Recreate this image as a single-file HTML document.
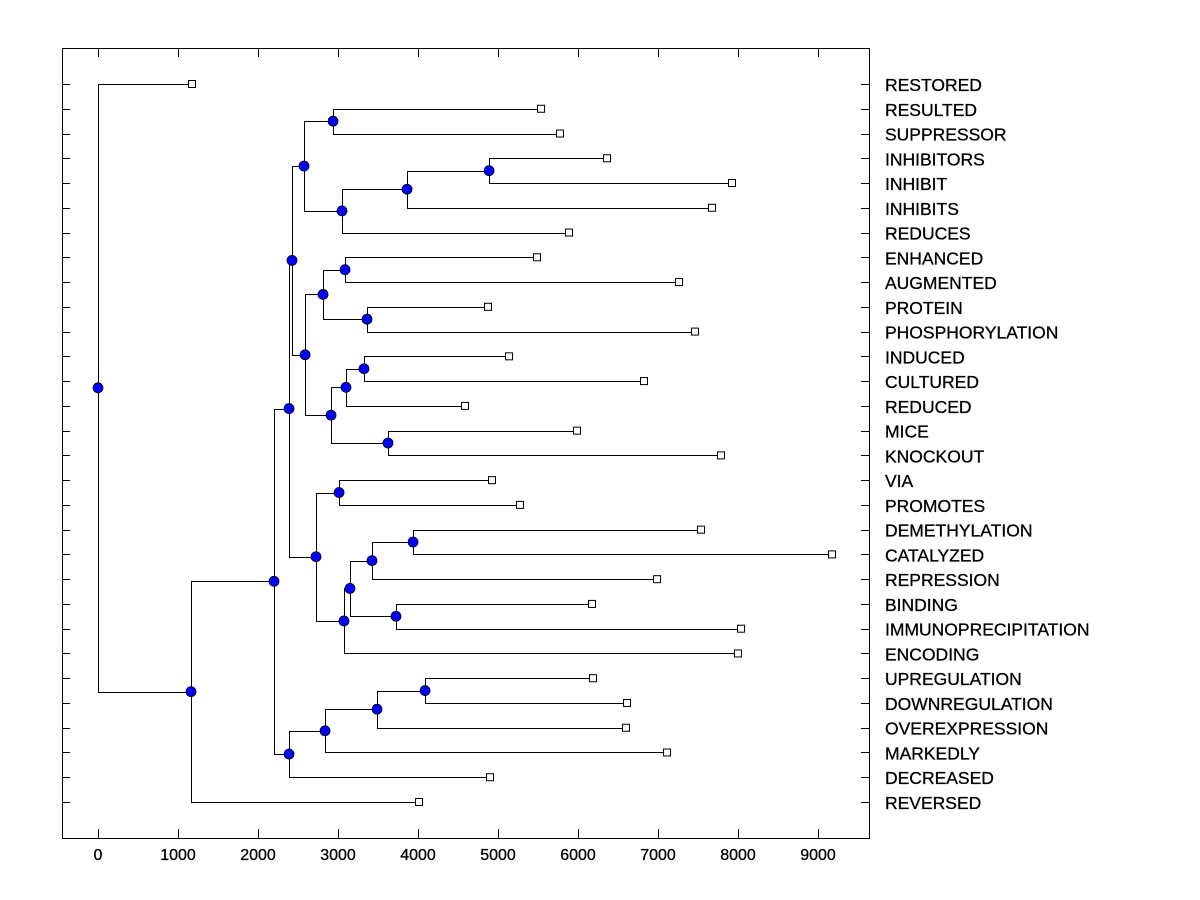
<!DOCTYPE html>
<html><head><meta charset="utf-8"><style>
html,body{margin:0;padding:0;background:#fff;}
svg{display:block;font-family:"Liberation Sans",Arial,sans-serif;}
</style></head><body>
<svg id="chart" width="1200" height="900" xmlns="http://www.w3.org/2000/svg">
<rect x="62.5" y="48.5" width="807" height="790" fill="none" stroke="#000" stroke-width="1"/>
<g id="ticks"></g><g id="links"></g><g id="marks"></g><g id="labels"></g>
</svg>
<script>
const leafNames = ["RESTORED","RESULTED","SUPPRESSOR","INHIBITORS","INHIBIT","INHIBITS","REDUCES","ENHANCED","AUGMENTED","PROTEIN","PHOSPHORYLATION","INDUCED","CULTURED","REDUCED","MICE","KNOCKOUT","VIA","PROMOTES","DEMETHYLATION","CATALYZED","REPRESSION","BINDING","IMMUNOPRECIPITATION","ENCODING","UPREGULATION","DOWNREGULATION","OVEREXPRESSION","MARKEDLY","DECREASED","REVERSED"];
const leafValues = [1175,5538,5775,6363,7925,7675,5888,5488,7263,4875,7463,5138,6825,4588,5988,7788,4925,5275,7538,9175,6988,6175,8038,7999,6188,6613,6600,7113,4900,4013];
// internal nodes: [name, height, childA, childB]
const nodeList = [
 ["n12",4888,"INHIBITORS","INHIBIT"],
 ["n11",3863,"n12","INHIBITS"],
 ["n10",3050,"n11","REDUCES"],
 ["n9",2938,"RESULTED","SUPPRESSOR"],
 ["n7",2575,"n9","n10"],
 ["n15",3088,"ENHANCED","AUGMENTED"],
 ["n16",3363,"PROTEIN","PHOSPHORYLATION"],
 ["n13",2813,"n15","n16"],
 ["n19",3325,"INDUCED","CULTURED"],
 ["n17",3100,"n19","REDUCED"],
 ["n18",3625,"MICE","KNOCKOUT"],
 ["n14",2913,"n17","n18"],
 ["n8",2588,"n13","n14"],
 ["n5",2425,"n7","n8"],
 ["n20",3013,"VIA","PROMOTES"],
 ["n25",3938,"DEMETHYLATION","CATALYZED"],
 ["n23",3425,"n25","REPRESSION"],
 ["n24",3725,"BINDING","IMMUNOPRECIPITATION"],
 ["n22",3150,"n23","n24"],
 ["n21",3075,"n22","ENCODING"],
 ["n6",2725,"n20","n21"],
 ["n3",2388,"n5","n6"],
 ["n28",4088,"UPREGULATION","DOWNREGULATION"],
 ["n27",3488,"n28","OVEREXPRESSION"],
 ["n26",2838,"n27","MARKEDLY"],
 ["n4",2388,"n26","DECREASED"],
 ["n2",2200,"n3","n4"],
 ["n1",1163,"n2","REVERSED"],
 ["root",0,"RESTORED","n1"]
];
const xTicks = [0,1000,2000,3000,4000,5000,6000,7000,8000,9000];

const NS="http://www.w3.org/2000/svg";
const xs = v => 98 + v*0.08;
const ys = i => 84 + i*(718/(leafNames.length-1));
function mk(tag, attrs, parent){const e=document.createElementNS(NS,tag);for(const k in attrs)e.setAttribute(k,attrs[k]);parent.appendChild(e);return e;}
const gT=document.getElementById('ticks'),gL=document.getElementById('links'),gM=document.getElementById('marks'),gX=document.getElementById('labels');

xTicks.forEach(t=>{
  const x=Math.round(xs(t))+0.5;
  let l=mk('line',{x1:x,x2:x,y1:838,y2:829,stroke:'#000'},gT);
  
  
  l=mk('line',{x1:x,x2:x,y1:48,y2:57,stroke:'#000'},gT);
  
  
  const tx=mk('text',{x:xs(t),y:860,'font-size':'16','text-anchor':'middle',stroke:'#000','stroke-width':'0.3'},gX);
  tx.textContent=t;
  
  
});

const pos={};
leafNames.forEach((n,i)=>{pos[n]={x:xs(leafValues[i]),y:ys(i)};
  const y=Math.round(ys(i))+0.5;
  let l=mk('line',{x1:62,x2:70,y1:y,y2:y,stroke:'#000'},gT);
  
  
  l=mk('line',{x1:861,x2:869,y1:y,y2:y,stroke:'#000'},gT);
  
  
  const tx=mk('text',{x:885,y:ys(i)+7,'font-size':'17.5',stroke:'#000','stroke-width':'0.3'},gX);
  tx.textContent=n;
  
  
});
nodeList.forEach(([n,h,a,b])=>{
  const x=xs(h), pa=pos[a], pb=pos[b];
  pos[n]={x:x,y:(pa.y+pb.y)/2};
  const p=mk('path',{d:`M${pa.x} ${Math.round(pa.y)+0.5}H${Math.round(x)+0.5}V${Math.round(pb.y)+0.5}H${pb.x}`,fill:'none',stroke:'#000','stroke-width':1},gL);
  
  
});
leafNames.forEach(n=>{const p=pos[n];
  const r=mk('rect',{x:p.x-3.5,y:p.y-3.5,width:7,height:7,fill:'#fff',stroke:'#000'},gM);
  
  
});
nodeList.forEach(([n])=>{const p=pos[n];
  const c=mk('circle',{cx:p.x,cy:p.y,r:5,fill:'#0000ff',stroke:'#000','stroke-width':0.8},gM);
  
  
});
</script>
</body></html>
